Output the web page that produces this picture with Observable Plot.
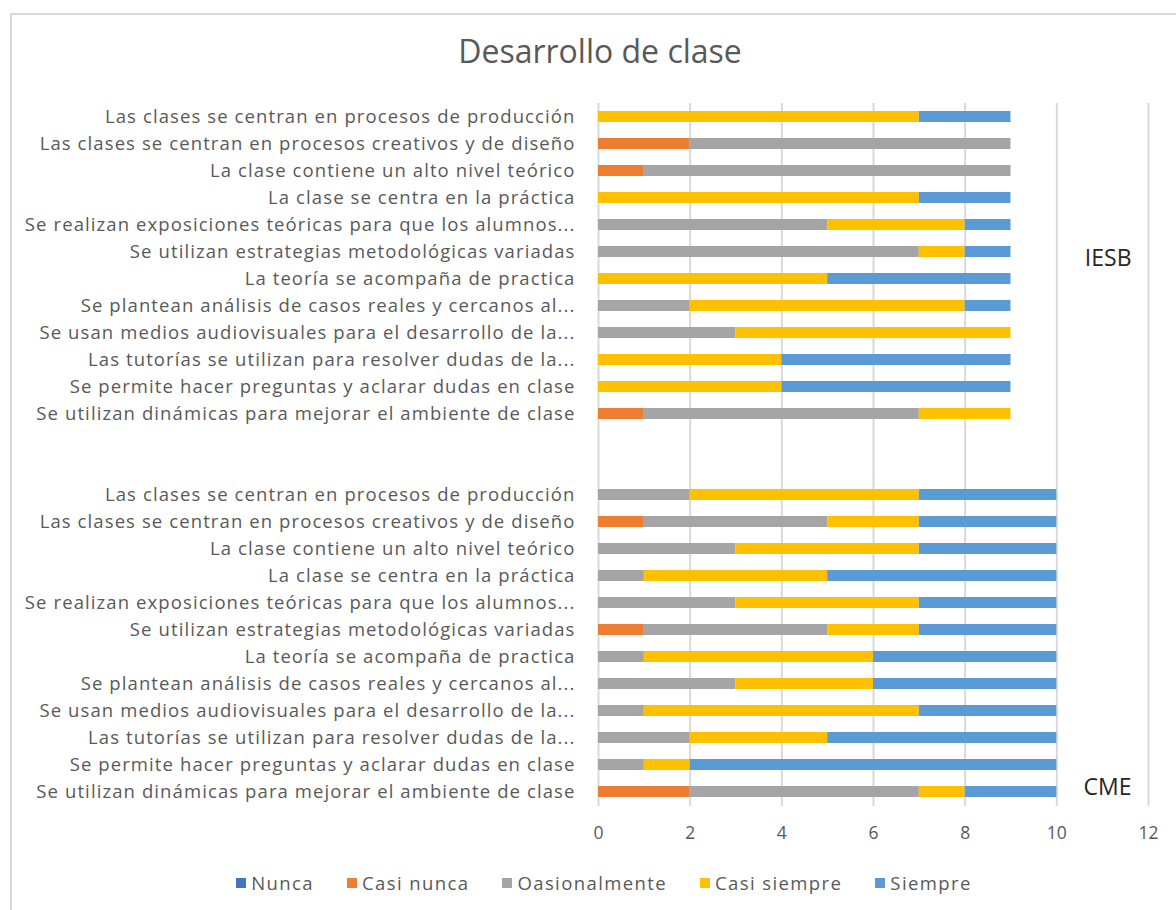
<!DOCTYPE html>
<html>
<head>
<meta charset="utf-8">
<script src="https://cdn.jsdelivr.net/npm/d3@7"></script>
<script src="https://cdn.jsdelivr.net/npm/@observablehq/plot@0.6"></script>
<style>
  html, body { margin: 0; padding: 0; background: #fff; }
  #wrap { position: relative; width: 1176px; height: 910px; overflow: hidden; font-family: "Open Sans", sans-serif; }
  #frame { position: absolute; left: 10px; top: 13px; width: 1190px; height: 910px; border: 2px solid #d9d9d9; box-sizing: border-box; }
  #title { position: absolute; left: 0; top: 29px; width: 1200px; text-align: center; font-size: 32px; color: #595959; }
  #chart { position: absolute; left: 0; top: 0; }
  #chart g[aria-label="y-axis tick label"] text { letter-spacing: 1.1px; }
  #legend { position: absolute; left: 0; top: 870px; width: 1208px; display: flex; justify-content: center; gap: 33px; font-size: 18.5px; color: #595959; letter-spacing: 1.4px; }
  #legend .item { display: flex; align-items: center; gap: 5px; }
  #legend .sw { width: 10px; height: 10px; display: inline-block; }
</style>
</head>
<body>
<div id="wrap">
  <div id="frame"></div>
  <div id="title">Desarrollo de clase</div>
  <div id="chart"></div>
  <div id="legend"></div>
</div>
<script>
const series = ["Nunca", "Casi nunca", "Oasionalmente", "Casi siempre", "Siempre"];
const colors = ["#4472C4", "#ED7D31", "#A5A5A5", "#FFC000", "#5B9BD5"];
const groups = ["IESB", "CME"];
const items = [
  "Las clases se centran en procesos de producción",
  "Las clases se centran en procesos creativos y de diseño",
  "La clase contiene un alto nivel teórico",
  "La clase se centra en la práctica",
  "Se realizan exposiciones teóricas para que los alumnos...",
  "Se utilizan estrategias metodológicas variadas",
  "La teoría se acompaña de practica",
  "Se plantean análisis de casos reales y cercanos al...",
  "Se usan medios audiovisuales para el desarrollo de la...",
  "Las tutorías se utilizan para resolver dudas de la...",
  "Se permite hacer preguntas y aclarar dudas en clase",
  "Se utilizan dinámicas para mejorar el ambiente de clase"
];
// values per item: [Nunca, Casi nunca, Oasionalmente, Casi siempre, Siempre]
const iesb = [
  [0, 0, 0, 7, 2],
  [0, 2, 7, 0, 0],
  [0, 1, 8, 0, 0],
  [0, 0, 0, 7, 2],
  [0, 0, 5, 3, 1],
  [0, 0, 7, 1, 1],
  [0, 0, 0, 5, 4],
  [0, 0, 2, 6, 1],
  [0, 0, 3, 6, 0],
  [0, 0, 0, 4, 5],
  [0, 0, 0, 4, 5],
  [0, 1, 6, 2, 0]
];
const cme = [
  [0, 0, 2, 5, 3],
  [0, 1, 4, 2, 3],
  [0, 0, 3, 4, 3],
  [0, 0, 1, 4, 5],
  [0, 0, 3, 4, 3],
  [0, 1, 4, 2, 3],
  [0, 0, 1, 5, 4],
  [0, 0, 3, 3, 4],
  [0, 0, 1, 6, 3],
  [0, 0, 2, 3, 5],
  [0, 0, 1, 1, 8],
  [0, 2, 5, 1, 2]
];
const xTicks = [0, 2, 4, 6, 8, 10, 12];

const groupData = [iesb, cme];
const keyOf = (g, i) => g + "|" + items[i];
const domain = [
  ...items.map((_, i) => keyOf("IESB", i)),
  "gap1", "gap2",
  ...items.map((_, i) => keyOf("CME", i))
];
const rows = [];
groups.forEach((g, gi) => {
  groupData[gi].forEach((vals, i) => {
    vals.forEach((v, s) => {
      if (v > 0) rows.push({key: keyOf(g, i), series: series[s], value: v});
    });
  });
});

const chart = Plot.plot({
  width: 1176,
  height: 910,
  marginLeft: 598,
  marginRight: 28,
  marginTop: 103,
  marginBottom: 104,
  style: {fontFamily: "Open Sans, sans-serif", fontSize: "17px", color: "#595959", background: "transparent"},
  x: {domain: [0, 12], axis: null, label: null},
  y: {domain: domain, paddingInner: 0.58, paddingOuter: 0.29, axis: null, label: null},
  color: {domain: series, range: colors},
  marks: [
    Plot.gridX(xTicks, {stroke: "#d9d9d9", strokeOpacity: 1, strokeWidth: 2}),
    Plot.barX(rows, Plot.stackX({x: "value", y: "key", fill: "series", order: series})),
    Plot.axisX({ticks: xTicks, tickSize: 0, tickPadding: 20, fontSize: 17.5, label: null}),
    Plot.axisY({tickSize: 0, tickPadding: 23, fontSize: 18.5, label: null, tickFormat: d => (d.split("|")[1] || "")}),
    Plot.text([{label: groups[0], key: keyOf("IESB", 5)}], {text: "label", y: "key", frameAnchor: "right", dx: -17, dy: 7, fontSize: 23, fill: "#262626", textAnchor: "end"}),
    Plot.text([{label: groups[1], key: keyOf("CME", 11)}], {text: "label", y: "key", frameAnchor: "right", dx: -17, dy: -4, fontSize: 23, fill: "#262626", textAnchor: "end"})
  ]
});
document.getElementById("chart").appendChild(chart);

const legend = document.getElementById("legend");
series.forEach((s, i) => {
  const it = document.createElement("div");
  it.className = "item";
  const sw = document.createElement("span");
  sw.className = "sw";
  sw.style.background = colors[i];
  const tx = document.createElement("span");
  tx.textContent = s;
  it.appendChild(sw);
  it.appendChild(tx);
  legend.appendChild(it);
});
</script>
</body>
</html>
